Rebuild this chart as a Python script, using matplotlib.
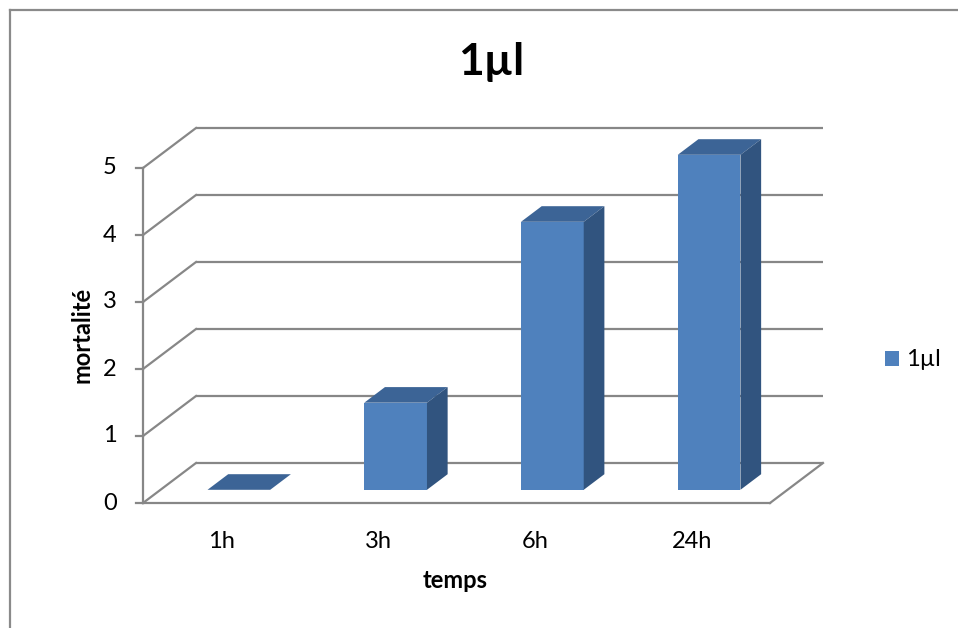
import matplotlib
matplotlib.use("Agg")
import matplotlib.pyplot as plt
from matplotlib.patches import Polygon, Patch
from matplotlib.lines import Line2D

# ---- data ----
categories = ["1h", "3h", "6h", "24h"]
values = [0, 1.3, 4, 5]
series_name = "1µl"
y_ticks = [0, 1, 2, 3, 4, 5]

# ---- style ----
plt.rcParams["font.family"] = ["Lato", "DejaVu Sans"]
FRONT = "#4F81BD"
TOP = "#3C6496"
SIDE = "#31547F"
GRID = "#878787"

W, H = 958, 628
fig = plt.figure(figsize=(W / 100, H / 100), dpi=100)

# pixel geometry of the oblique frame
PX0, PXW = 143.0, 156.75   # left edge of front plane, px per category
PY0, PYU = 503.0, 67.0     # baseline y (px) and px per value unit
DXP, DYP = 53.0, 40.0      # depth offset of the back wall (px)

ax = fig.add_axes([0, 0, 1, 1])
ax.set_xlim((0 - PX0) / PXW - 0.5, (W - PX0) / PXW - 0.5)
ax.set_ylim((PY0 - H) / PYU, PY0 / PYU)
ax.axis("off")

DX = DXP / PXW   # depth offset in category units
DY = DYP / PYU   # depth offset in value units


def proj(x, v, z):
    """Oblique projection: depth z in [0, 1] shifts right and up."""
    return (x + z * DX, v + z * DY)


x_lo, x_hi = -0.5, len(categories) - 0.5
vmax = max(y_ticks)

# back wall gridlines and left wall diagonals
for t in y_ticks:
    ax.plot(*zip(proj(x_lo, t, 1), proj(x_hi, t, 1)), color=GRID, lw=1.6,
            solid_capstyle="butt", zorder=1)
    ax.plot(*zip(proj(x_lo, t, 0), proj(x_lo, t, 1)), color=GRID, lw=1.6,
            zorder=1)

# floor: front edge and right edge
ax.plot(*zip(proj(x_lo, 0, 0), proj(x_hi, 0, 0)), color=GRID, lw=1.6, zorder=1)
ax.plot(*zip(proj(x_hi, 0, 0), proj(x_hi, 0, 1)), color=GRID, lw=1.6, zorder=1)

# vertical value axis with tick marks
ax.plot([x_lo, x_lo], [0, vmax], color=GRID, lw=1.6, zorder=2)
tick_len = 7 / PXW
for t in y_ticks:
    ax.plot([x_lo - tick_len, x_lo], [t, t], color=GRID, lw=1.6, zorder=2)
    ax.text(x_lo - 33 / PXW, t, str(t), ha="center", va="center",
            fontsize=17, color="#000000")

# category labels
for i, c in enumerate(categories):
    ax.text(i, -38 / PYU, c, ha="center", va="center", fontsize=17,
            color="#000000")

# 3D bars
bw = 0.40
z0, z1 = 0.33, 0.72
for i, v in enumerate(values):
    cx = i
    xl, xr = cx - bw / 2, cx + bw / 2
    top = Polygon([proj(xl, v, z0), proj(xr, v, z0), proj(xr, v, z1),
                   proj(xl, v, z1)], closed=True, facecolor=TOP,
                  edgecolor="none", zorder=3)
    ax.add_patch(top)
    if v > 0:
        front = Polygon([proj(xl, 0, z0), proj(xr, 0, z0), proj(xr, v, z0),
                         proj(xl, v, z0)], closed=True, facecolor=FRONT,
                        edgecolor="none", zorder=4)
        side = Polygon([proj(xr, 0, z0), proj(xr, 0, z1), proj(xr, v, z1),
                        proj(xr, v, z0)], closed=True, facecolor=SIDE,
                       edgecolor="none", zorder=4)
        ax.add_patch(front)
        ax.add_patch(side)

# titles
fig.text(491 / W, 1 - 62 / H, "1µl", ha="center", va="center",
         fontsize=32, fontweight="bold")
fig.text(82 / W, 1 - 335 / H, "mortalité", ha="center", va="center",
         rotation=90, fontsize=17, fontweight="bold")
fig.text(455 / W, 1 - 580 / H, "temps", ha="center", va="center",
         fontsize=17, fontweight="bold")

# legend
fig.legend(handles=[Patch(facecolor=FRONT, edgecolor="none", label=series_name)],
           loc="center left", bbox_to_anchor=(885 / W, 1 - 360 / H),
           frameon=False, fontsize=17, handlelength=0.6, handleheight=0.6,
           handletextpad=0.3, borderaxespad=0, borderpad=0)

# chart-area border (top and left edges)
fig.add_artist(Line2D([9.5 / W, 1], [1 - 10 / H, 1 - 10 / H],
                      transform=fig.transFigure, color="#8A8A8A", lw=1.6))
fig.add_artist(Line2D([9.5 / W, 9.5 / W], [0, 1 - 10 / H],
                      transform=fig.transFigure, color="#8A8A8A", lw=1.6))

fig.savefig("out.png", dpi=100, facecolor="white")
